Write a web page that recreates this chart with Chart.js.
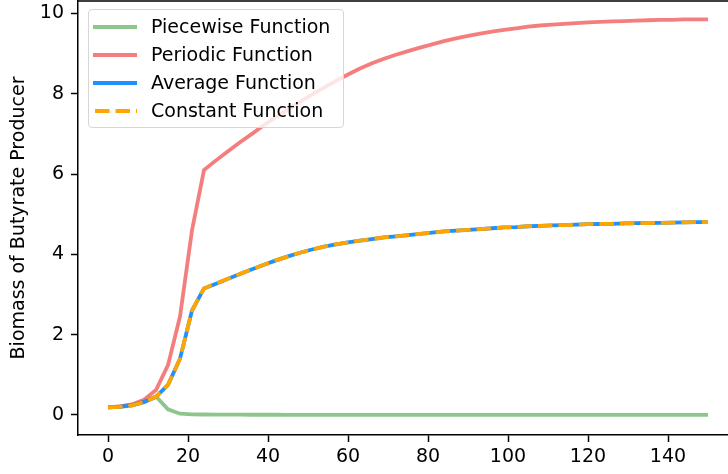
<!DOCTYPE html>
<html>
<head>
<meta charset="utf-8">
<script src="https://cdn.jsdelivr.net/npm/chart.js@4"></script>
<style>
  html, body { margin: 0; padding: 0; background: #fff; overflow: hidden; }
  #wrap { position: relative; width: 728px; height: 474px; overflow: hidden; }
  #myChart { position: absolute; left: 0; top: 0; }
  #legend {
    position: absolute; left: 88px; top: 9px; width: 256px; height: 119px;
    box-sizing: border-box; border: 1px solid #d6d6d6; border-radius: 4px;
    background: rgba(255,255,255,0.8);
    font-family: "DejaVu Sans", sans-serif; font-size: 19px; color: #000;
  }
  .row { position: absolute; left: 0; height: 28px; line-height: 28px; white-space: nowrap; }
  .row svg { position: absolute; left: 4px; top: 12px; }
  .row span { position: absolute; left: 62px; top: 0; }
</style>
</head>
<body>
<div id="wrap">
  <canvas id="myChart" width="740" height="474"></canvas>
  <div id="legend"></div>
</div>
<script>
const times = [0, 3, 6, 9, 12, 15, 18, 21, 24, 27, 30, 33, 36, 39, 42, 45, 48, 51, 54, 57,
  60, 63, 66, 69, 72, 75, 78, 81, 84, 87, 90, 93, 96, 99, 102, 105, 108, 111, 114, 117,
  120, 123, 126, 129, 132, 135, 138, 141, 144, 147, 150]

const piecewise = [0.19, 0.21, 0.25, 0.33, 0.46, 0.14, 0.03, 0.015, 0.01, 0.008, 0.007, 0.006, 0.005, 0.004, 0.004, 0.003, 0.003, 0.002, 0.002, 0.002,
  0.002, 0.001, 0.001, 0.001, 0.001, 0.001, 0.001, 0.001, 0.001, 0.001, 0.001, 0.001, 0.001, 0.001, 0.001, 0.001, 0.001, 0.001, 0.001, 0.001,
  0.001, 0.001, 0.001, 0.001, 0.001, 0.001, 0.001, 0.001, 0.001, 0.001, 0.001]

const periodic = [0.19, 0.21, 0.26, 0.38, 0.62, 1.24, 2.45, 4.6, 6.1, 6.34, 6.57, 6.79, 7.0, 7.22, 7.42, 7.61, 7.8, 7.98, 8.15, 8.32,
  8.48, 8.63, 8.76, 8.87, 8.97, 9.06, 9.15, 9.23, 9.31, 9.38, 9.44, 9.5, 9.55, 9.59, 9.63, 9.67, 9.7, 9.72, 9.74, 9.76,
  9.78, 9.79, 9.8, 9.81, 9.82, 9.83, 9.84, 9.84, 9.85, 9.85, 9.85]

const average = [0.19, 0.2, 0.24, 0.32, 0.45, 0.75, 1.4, 2.6, 3.15, 3.27, 3.39, 3.51, 3.63, 3.74, 3.85, 3.95, 4.04, 4.12, 4.19, 4.25,
  4.3, 4.34, 4.38, 4.42, 4.45, 4.48, 4.51, 4.54, 4.57, 4.59, 4.61, 4.63, 4.65, 4.67, 4.68, 4.7, 4.71, 4.72, 4.73, 4.74,
  4.75, 4.755, 4.76, 4.77, 4.775, 4.78, 4.785, 4.79, 4.795, 4.8, 4.8]

const constant = [0.19, 0.2, 0.24, 0.32, 0.45, 0.75, 1.4, 2.6, 3.15, 3.27, 3.39, 3.51, 3.63, 3.74, 3.85, 3.95, 4.04, 4.12, 4.19, 4.25,
  4.3, 4.34, 4.38, 4.42, 4.45, 4.48, 4.51, 4.54, 4.57, 4.59, 4.61, 4.63, 4.65, 4.67, 4.68, 4.7, 4.71, 4.72, 4.73, 4.74,
  4.75, 4.755, 4.76, 4.77, 4.775, 4.78, 4.785, 4.79, 4.795, 4.8, 4.8]

const seriesNames = ['Piecewise Function', 'Periodic Function', 'Average Function', 'Constant Function']
const seriesColors = ['rgba(0,128,0,0.45)', 'rgba(235,20,20,0.55)', '#1e90ff', '#ffa500']
const seriesDash = [[], [], [], [14.5, 6]]
const seriesValues = [piecewise, periodic, average, constant]

const xTicks = [0, 20, 40, 60, 80, 100, 120, 140]
const yTicks = [0, 2, 4, 6, 8, 10]

const FONT = { family: 'DejaVu Sans', size: 19 }

// matplotlib style top / right spines
const topSpine = {
    id: 'topSpine',
    afterDraw(chart) {
        const { ctx, chartArea } = chart
        ctx.save()
        ctx.strokeStyle = '#000'
        ctx.lineWidth = 1.5
        ctx.beginPath()
        ctx.moveTo(chartArea.left, chartArea.top)
        ctx.lineTo(chartArea.right, chartArea.top)
        ctx.moveTo(chartArea.right, chartArea.top)
        ctx.lineTo(chartArea.right, chartArea.bottom)
        ctx.stroke()
        ctx.restore()
    }
}

function displayChart() {
    const ctx = document.getElementById('myChart')

    const datasets = seriesNames.map((name, i) => ({
        label: name,
        data: times.map((t, j) => ({ x: t, y: seriesValues[i][j] })),
        borderColor: seriesColors[i],
        backgroundColor: seriesColors[i],
        borderWidth: 3.8,
        borderDash: seriesDash[i],
        pointRadius: 0,
        tension: 0,
        fill: false,
        order: 3 - i,
    }))

    new Chart(ctx, {
        type: 'line',
        data: { datasets },
        options: {
            responsive: false,
            animation: false,
            layout: { padding: { top: 1, right: 2, left: 0, bottom: 0 } },
            plugins: {
                legend: { display: false },
                tooltip: { enabled: false },
            },
            scales: {
                x: {
                    type: 'linear',
                    min: -7.5,
                    max: 157.5,
                    afterBuildTicks: (scale) => { scale.ticks = xTicks.map(v => ({ value: v })) },
                    afterFit: (scale) => {
                        scale.height = 39
                        scale.paddingLeft = 0
                        scale.paddingRight = 0
                    },
                    ticks: { color: '#000', font: FONT, padding: 4, maxRotation: 0 },
                    grid: { drawOnChartArea: false, drawTicks: true, tickLength: 7, tickWidth: 1.5, tickColor: '#000' },
                    border: { display: true, color: '#000', width: 1.5 },
                },
                y: {
                    type: 'linear',
                    min: -0.5,
                    max: 10.31,
                    afterBuildTicks: (scale) => { scale.ticks = yTicks.map(v => ({ value: v })) },
                    afterFit: (scale) => {
                        scale.width = 78
                        scale.paddingTop = 0
                        scale.paddingBottom = 0
                    },
                    ticks: { color: '#000', font: FONT, padding: 7 },
                    grid: { drawOnChartArea: false, drawTicks: true, tickLength: 7, tickWidth: 1.5, tickColor: '#000' },
                    border: { display: true, color: '#000', width: 1.5 },
                    title: {
                        display: true,
                        text: 'Biomass of Butyrate Producer',
                        color: '#000',
                        font: FONT,
                        padding: { top: 8, bottom: 0 },
                    },
                },
            },
        },
        plugins: [topSpine],
    })
}

function displayLegend() {
    const box = document.getElementById('legend')
    seriesNames.forEach((name, i) => {
        const row = document.createElement('div')
        row.className = 'row'
        row.style.top = (1.5 + i * 28.3) + 'px'
        const dash = seriesDash[i].length ? `stroke-dasharray="${seriesDash[i].join(' ')}" stroke-dashoffset="-2"` : ''
        row.innerHTML = `<svg width="46" height="6"><line x1="0" y1="3" x2="44" y2="3" stroke="${seriesColors[i]}" stroke-width="3.8" ${dash}/></svg><span>${name}</span>`
        box.appendChild(row)
    })
}

displayChart()
displayLegend()
</script>
</body>
</html>
